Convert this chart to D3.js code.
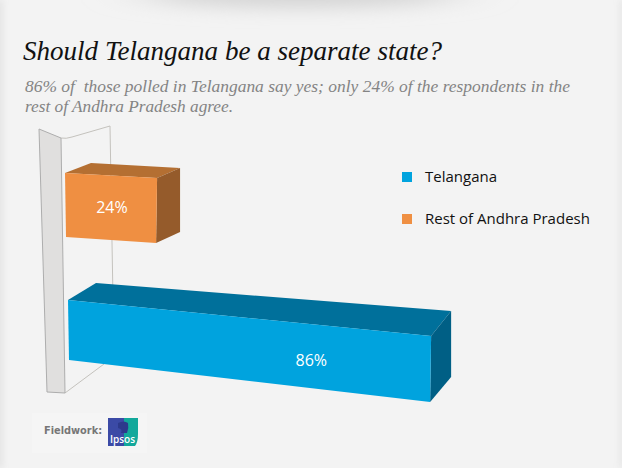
<!DOCTYPE html>
<html><head><meta charset="utf-8">
<script src="https://cdn.jsdelivr.net/npm/d3@7"></script>
<style>html,body{margin:0;padding:0;background:#f3f3f3}svg{display:block}</style>
</head><body><div id="c"></div>
<script>
const categories = ["Telangana", "Rest of Andhra Pradesh"];
const values = [86, 24];
const colors = ["#00a3de", "#ef8f42"];
const topColors = ["#00709b", "#b46f32"];
const sideColors = ["#005f85", "#955b2b"];
const valueLabels = ["86%", "24%"];
const title = "Should Telangana be a separate state?";
const subtitle = ["86% of  those polled in Telangana say yes; only 24% of the respondents in the", "rest of Andhra Pradesh agree."];

const W = 622, H = 468;
const svg = d3.select("#c").append("svg").attr("width", W).attr("height", H);
const defs = svg.append("defs");
defs.append("filter").attr("id","blur").attr("x","-30%").attr("y","-300%").attr("width","160%").attr("height","700%")
  .append("feGaussianBlur").attr("stdDeviation","28 9");
defs.append("filter").attr("id","blur2").attr("x","-100%").attr("width","300%")
  .append("feGaussianBlur").attr("stdDeviation","3");

svg.append("rect").attr("width",W).attr("height",H).attr("fill","#f3f3f3");
svg.append("rect").attr("x",-4).attr("y",0).attr("width",7).attr("height",H).attr("fill","#e4e4e4").attr("filter","url(#blur2)");
svg.append("rect").attr("x",W-3).attr("y",0).attr("width",7).attr("height",H).attr("fill","#e8e8e8").attr("filter","url(#blur2)");
svg.append("ellipse").attr("cx",300).attr("cy",-6).attr("rx",160).attr("ry",14).attr("fill","#d4d4d4").attr("filter","url(#blur)");

svg.append("text").attr("x",23).attr("y",60).text(title)
  .attr("font-family","'Liberation Serif',serif").attr("font-style","italic").attr("font-size",27.5).attr("fill","#111")
  .attr("textLength",419).attr("lengthAdjust","spacingAndGlyphs");
const subLen = [545, 208];
subtitle.forEach((s,i)=>svg.append("text").attr("x",25).attr("y",92+i*19.5).text(s)
  .attr("xml:space","preserve")
  .attr("font-family","'Liberation Serif',serif").attr("font-style","italic").attr("font-size",16.5).attr("fill","#848484")
  .attr("textLength",subLen[i]).attr("lengthAdjust","spacingAndGlyphs"));

// back wall outline and side wall of the 3-D chart frame
const wall = svg.append("g");
wall.append("path").attr("d","M61,138 Q66,139 72,137 L110,126 L113,300 M65,393 L104,364")
  .attr("fill","none").attr("stroke","#c4c2bd").attr("stroke-width",1);
wall.append("path").attr("d","M39,129 L61,138 L65,393 L47,392 Z")
  .attr("fill","#e0dfde").attr("stroke","#adadad").attr("stroke-width",1);

const x = d3.scaleLinear().domain([0,100]).range([51,493]);
// layout of each bar: front-left corner, heights, slopes, depth, label placement
const rows = [
  {x0:68, y0:300, h0:60, slope:0.0994, hEnd:66, dx:20, dy:-25, startDx:28, startDy:-17, hSide:66, labelAt:0.67, labelDy:42},
  {x0:65, y0:173, h0:64, slope:0.054, hEnd:65, dx:23, dy:-10, startDx:26, startDy:-10, hSide:64, labelAt:0.51, labelDy:37.5}
];
const line = d3.line();
const bars = svg.append("g").selectAll("g").data(values).join("g");
bars.each(function(v,i){
  const g = d3.select(this), r = rows[i], xe = x(v), ye = r.y0 + (xe-r.x0)*r.slope;
  const bl=[r.x0+1,r.y0+r.h0], br=[xe-1,ye+r.hEnd];
  const tl=[r.x0,r.y0], tr=[xe,ye];
  const btl=[r.x0+r.startDx,r.y0+r.startDy], btr=[xe+r.dx,ye+r.dy];
  const bbr=[xe+r.dx,ye+r.dy+r.hSide];
  g.append("path").attr("d",line([tl,btl,btr,tr])+"Z").attr("fill",topColors[i]);
  g.append("path").attr("d",line([tr,btr,bbr,br])+"Z").attr("fill",sideColors[i]);
  g.append("path").attr("d",line([tl,tr,br,bl])+"Z").attr("fill",colors[i]);
  const lx = r.x0+(xe-r.x0)*r.labelAt, ly = r.y0+(lx-r.x0)*r.slope+r.labelDy;
  g.append("text").attr("x",lx).attr("y",ly)
    .attr("text-anchor","middle").attr("fill","#fff").attr("font-family","'Open Sans',sans-serif").attr("font-size",16).text(valueLabels[i]);
});

const legY = [177, 219];
const leg = svg.append("g").selectAll("g").data(categories).join("g");
leg.append("rect").attr("x",402).attr("y",(d,i)=>legY[i]-5).attr("width",10).attr("height",10).attr("fill",(d,i)=>colors[i]);
leg.append("text").attr("x",425).attr("y",(d,i)=>legY[i]+5).text(d=>d)
  .attr("font-family","'Open Sans',sans-serif").attr("font-size",15).attr("fill","#111");

// fieldwork credit
svg.append("rect").attr("x",32).attr("y",413).attr("width",115).attr("height",40).attr("fill","#f5f5f5");
svg.append("text").attr("x",44).attr("y",434).text("Fieldwork:")
  .attr("font-family","'DejaVu Sans',sans-serif").attr("font-weight","bold").attr("font-size",9.8).attr("fill","#777");
const logo = svg.append("g").attr("transform","translate(108,418)");
logo.append("rect").attr("width",16).attr("height",28).attr("fill","#3b4aa6");
logo.append("path").attr("d","M16,0 H30 V16 Q30,24 27,28 H16 Z").attr("fill","#12a89b");
logo.append("path").attr("d","M10,5 Q16,2 20,5 Q21,10 19,15 H13 Q15,11 10,10 Z").attr("fill","#2d3a8c");
logo.append("text").attr("x",14.5).attr("y",25).attr("text-anchor","middle").text("Ipsos")
  .attr("font-family","'Open Sans',sans-serif").attr("font-weight","600").attr("font-size",10).attr("fill","#fff");
</script></body></html>
